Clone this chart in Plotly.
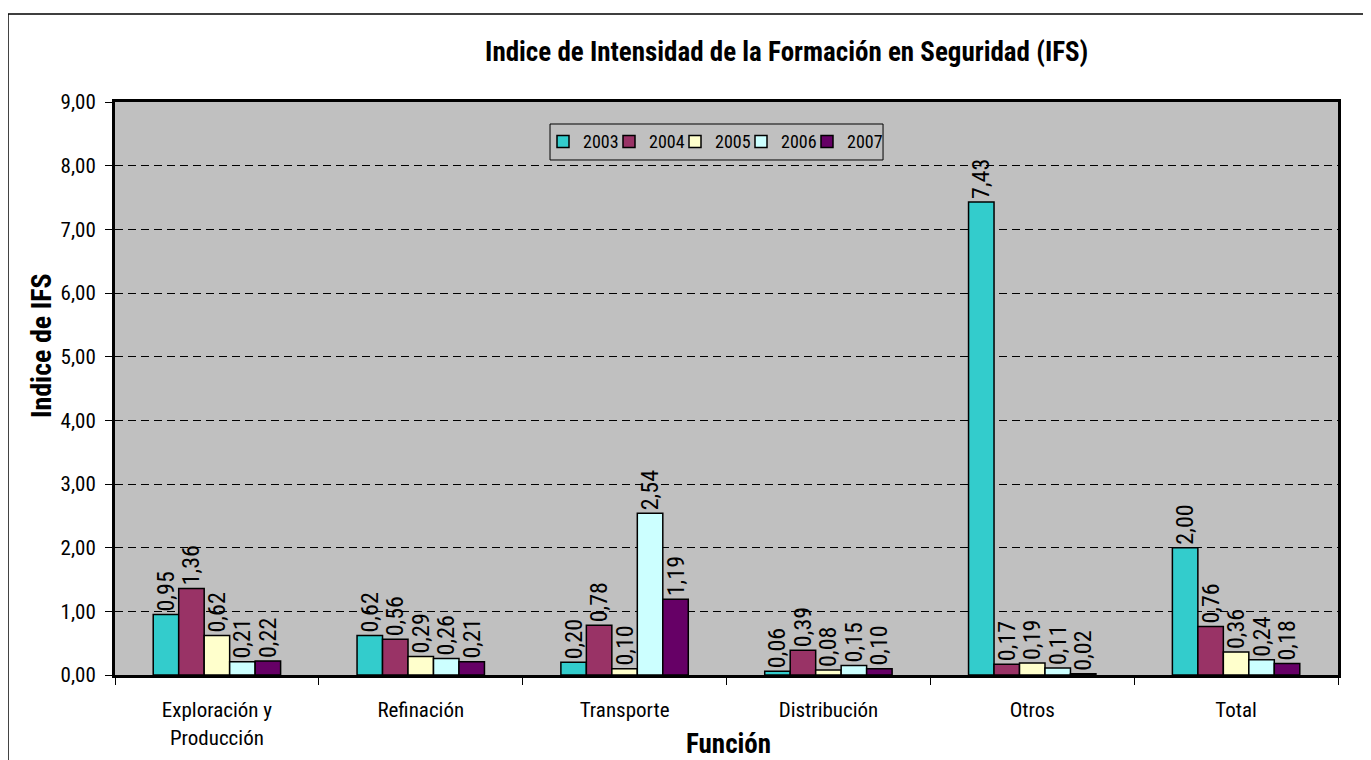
import plotly.graph_objects as go

categories = ["Exploración y<br>Producción", "Refinación", "Transporte", "Distribución", "Otros", "Total"]
years = ["2003", "2004", "2005", "2006", "2007"]
v2003 = [0.95, 0.62, 0.20, 0.06, 7.43, 2.00]
v2004 = [1.36, 0.56, 0.78, 0.39, 0.17, 0.76]
v2005 = [0.62, 0.29, 0.10, 0.08, 0.19, 0.36]
v2006 = [0.21, 0.26, 2.54, 0.15, 0.11, 0.24]
v2007 = [0.22, 0.21, 1.19, 0.10, 0.02, 0.18]
series = [v2003, v2004, v2005, v2006, v2007]
colors = ["#33CCCC", "#993366", "#FFFFCC", "#CCFFFF", "#660066"]

FONT = "Roboto Condensed, Liberation Sans Narrow, Arial Narrow, sans-serif"

fig = go.Figure()
legend_names = ["legend", "legend2", "legend3", "legend4", "legend5"]
for name, vals, col, lg in zip(years, series, colors, legend_names):
    fig.add_trace(go.Bar(
        name=name, x=categories, y=vals, legend=lg,
        marker=dict(color=col, line=dict(color="black", width=1.5)),
        text=vals, texttemplate="%{y:.2f}", textposition="outside",
        textangle=-90, cliponaxis=False, constraintext="none",
        textfont=dict(family=FONT, size=24, color="black"),
    ))

legend_common = dict(orientation="h", xanchor="left", y=0.963, yanchor="top",
                     bgcolor="rgba(0,0,0,0)", borderwidth=0,
                     font=dict(family=FONT, size=18), itemwidth=30)
legends = {}
for i, lg in enumerate(legend_names):
    legends[lg] = dict(legend_common, x=(428 + 66 * i) / 1223)

fig.update_layout(
    width=1371, height=760,
    barmode="group", bargap=0.375, bargroupgap=0,
    separators=",.",
    paper_bgcolor="white", plot_bgcolor="#C0C0C0",
    margin=dict(l=107, r=41, t=94, b=93, autoexpand=False),
    font=dict(family=FONT, size=20, color="black"),
    title=dict(text="<b>Indice de Intensidad de la Formación en Seguridad (IFS)</b>",
               x=0.568, xanchor="center", y=0.943, yanchor="middle",
               font=dict(family=FONT, size=27, color="black")),
    showlegend=True,
    **legends,
)
fig.update_xaxes(
    showline=True, linecolor="black", linewidth=3, mirror=True,
    ticks="outside", tickson="boundaries", ticklen=7, tickcolor="black",
    tickfont=dict(family=FONT, size=21), automargin=False, ticklabelstandoff=14,
)
fig.update_yaxes(
    range=[0, 9], dtick=1, tickformat=".2f",
    showline=True, linecolor="black", linewidth=3, mirror=True,
    ticks="outside", ticklen=7, tickcolor="black",
    showgrid=True, gridcolor="black", griddash="8px,5px", gridwidth=1,
    zeroline=False, automargin=False, ticklabelstandoff=5,
    tickfont=dict(family=FONT, size=21),
)
fig.add_annotation(text="<b>Función</b>", xref="paper", yref="paper", x=0.502, y=-0.12,
                   xanchor="center", yanchor="middle", showarrow=False,
                   font=dict(family=FONT, size=27, color="black"))
fig.add_annotation(text="<b>Indice de IFS</b>", xref="paper", yref="paper", x=-0.0605, y=0.574,
                   xanchor="center", yanchor="middle", showarrow=False, textangle=-90,
                   font=dict(family=FONT, size=28, color="black"))
# legend frame
fig.add_shape(type="rect", xref="paper", yref="paper",
              x0=0.3557, x1=0.628, y0=0.8988, y1=0.9616,
              line=dict(color="black", width=1), fillcolor="rgba(0,0,0,0)", layer="above")
# outer chart border
fig.add_shape(type="rect", xref="paper", yref="paper",
              x0=-0.0875, x1=1.1, y0=-0.3, y1=1.1536,
              line=dict(color="black", width=1.5), fillcolor="rgba(0,0,0,0)", layer="below")

fig.write_html("out.html")
